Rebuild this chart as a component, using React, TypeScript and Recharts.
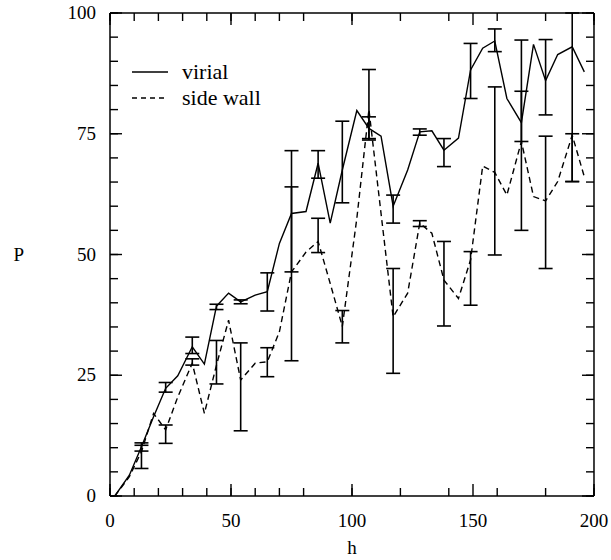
import React from 'react';
import { LineChart, Line, XAxis, YAxis, ErrorBar, Legend } from 'recharts';

const FONT = '"Liberation Serif", "DejaVu Serif", serif';

// h positions of every point on both curves
const hValues = [2, 8, 13, 18, 23, 28, 34, 39, 44, 49, 54, 60, 65, 70, 75, 81, 86, 91, 96, 102, 107, 112, 117, 123, 128, 133, 138, 144, 149, 154, 159, 164, 170, 175, 180, 185, 191, 196];
const virial = [0, 4.3, 10.2, 16.4, 22.3, 24.9, 30.9, 27.3, 39.3, 42.0, 40.2, 41.6, 42.3, 52.3, 58.5, 58.9, 68.9, 56.5, 67.5, 79.8, 76.1, 74.5, 60.0, 67.5, 75.4, 75.6, 71.6, 74.1, 88.2, 92.7, 94.2, 82.3, 77.3, 93.5, 86.0, 91.4, 93.0, 87.8];
const sideWall = [0, 4.0, 9.2, 17.1, 13.7, 20.5, 27.5, 17.1, 27.1, 36.4, 24.0, 27.5, 27.8, 34.0, 46.4, 50.5, 52.7, 44.0, 35.1, 57.5, 80.0, 58.5, 37.1, 42.0, 56.5, 54.4, 44.7, 40.9, 48.9, 68.3, 67.0, 62.3, 73.4, 62.0, 61.1, 65.1, 74.7, 66.1];

// error bars (only on every other point)
const errH = [13, 23, 34, 44, 54, 65, 75, 86, 96, 107, 117, 128, 138, 149, 159, 170, 180, 191];
const virialLow = [9.3, 21.5, 29.5, 38.6, 39.8, 38.3, 46.4, 65.8, 60.7, 73.7, 56.5, 74.7, 68.2, 82.3, 92.0, 73.4, 78.9, 65.1];
const virialHigh = [11.0, 23.5, 32.9, 39.7, 40.6, 46.2, 71.5, 71.5, 77.6, 88.3, 62.3, 76.0, 74.0, 93.7, 96.7, 94.4, 94.5, 100];
const sideLow = [5.7, 10.9, 27.1, 23.2, 13.5, 24.7, 28.0, 50.4, 31.7, 74.0, 25.4, 55.8, 35.2, 39.5, 49.9, 55.0, 47.1, 65.1];
const sideHigh = [10.5, 14.7, 28.4, 32.2, 31.7, 30.7, 64.0, 57.5, 38.4, 78.5, 47.1, 57.0, 52.7, 50.6, 84.7, 83.8, 74.5, 75.0];

const xTicks = [0, 10, 20, 30, 40, 50, 60, 70, 80, 90, 100, 110, 120, 130, 140, 150, 160, 170, 180, 190, 200];
const xMajor = [0, 50, 100, 150, 200];
const yTicks = [0, 5, 10, 15, 20, 25, 30, 35, 40, 45, 50, 55, 60, 65, 70, 75, 80, 85, 90, 95, 100];
const yMajor = [0, 25, 50, 75, 100];

const legendItems = [
  { label: 'virial', dash: undefined },
  { label: 'side wall', dash: '5 4' },
];

const data = hValues.map((h, i) => {
  const k = errH.indexOf(h);
  const row: any = { h, virial: virial[i], side: sideWall[i] };
  if (k >= 0) {
    row.virialErr = [virial[i] - virialLow[k], virialHigh[k] - virial[i]];
    row.sideErr = [sideWall[i] - sideLow[k], sideHigh[k] - sideWall[i]];
  }
  return row;
});

const tickText = { fontFamily: FONT, fontSize: 19, fill: '#000' };
const tickLine = { stroke: '#000', strokeWidth: 1.4 };
const axisLine = { stroke: '#000', strokeWidth: 1.5 };
const THIN = 0.01;

function BottomLabel({ x, y, payload }: any) {
  return <text x={x} y={Number(y) + 31} textAnchor="middle" {...tickText}>{payload.value}</text>;
}

function LeftLabel({ x, y, payload }: any) {
  return <text x={Number(x) - 14} y={Number(y) + 6} textAnchor="end" {...tickText}>{payload.value}</text>;
}

const NoLabel = () => null;

function LegendBox() {
  return (
    <div style={{ fontFamily: FONT, fontSize: 22, color: '#000' }}>
      {legendItems.map((it) => (
        <div key={it.label} style={{ display: 'flex', alignItems: 'center', height: 26 }}>
          <svg width={36} height={4}>
            <line x1={0} x2={36} y1={2} y2={2} stroke="#000" strokeWidth={1.5} strokeDasharray={it.dash} />
          </svg>
          <span style={{ marginLeft: 14 }}>{it.label}</span>
        </div>
      ))}
    </div>
  );
}

// inward tick rows drawn as mirrored axes on each side of the frame
function frameX(id: string, orientation: 'top' | 'bottom', ticks: number[], size: number, line: boolean) {
  return (
    <XAxis
      key={id} xAxisId={id} orientation={orientation} mirror dataKey="h" type="number" domain={[0, 200]}
      ticks={ticks} allowDataOverflow height={THIN} axisLine={line ? axisLine : false}
      tickLine={tickLine} tickSize={size} tickMargin={0} tick={<NoLabel />}
    />
  );
}

function frameY(id: string, orientation: 'left' | 'right', ticks: number[], size: number, line: boolean) {
  return (
    <YAxis
      key={id} yAxisId={id} orientation={orientation} mirror type="number" domain={[0, 100]}
      ticks={ticks} allowDataOverflow width={THIN} axisLine={line ? axisLine : false}
      tickLine={tickLine} tickSize={size} tickMargin={0} tick={<NoLabel />}
    />
  );
}

export default function App() {
  return (
    <div style={{ position: 'absolute', left: 0, top: 0, background: '#fff' }}>
      <LineChart width={611} height={560} data={data} margin={{ top: 13, right: 17, bottom: 0, left: 50 }}>
        <XAxis
          xAxisId="b" dataKey="h" type="number" domain={[0, 200]} ticks={xMajor} allowDataOverflow
          height={64} axisLine={axisLine} tickLine={false} tickSize={0} tickMargin={0} tick={<BottomLabel />}
          label={{ value: 'h', position: 'insideBottom', offset: 6, style: { ...tickText } }}
        />
        <YAxis
          yAxisId="l" type="number" domain={[0, 100]} ticks={yMajor} allowDataOverflow
          width={60} axisLine={axisLine} tickLine={false} tickSize={0} tickMargin={0} tick={<LeftLabel />}
          label={{ value: 'P', position: 'left', offset: 26, style: { ...tickText } }}
        />
        {frameX('bMin', 'bottom', xTicks, 8, false)}
        {frameX('bMaj', 'bottom', xMajor, 12, false)}
        {frameX('tMin', 'top', xTicks, 8, true)}
        {frameX('tMaj', 'top', xMajor, 12, false)}
        {frameY('lMin', 'left', yTicks, 8, false)}
        {frameY('lMaj', 'left', yMajor, 12, false)}
        {frameY('rMin', 'right', yTicks, 8, true)}
        {frameY('rMaj', 'right', yMajor, 12, false)}
        <Legend
          layout="vertical" align="center" verticalAlign="middle" content={<LegendBox />}
          wrapperStyle={{ left: 132, top: 59, width: 'auto', height: 'auto' }}
        />
        {/* invisible carriers so every frame axis is laid out */}
        <Line xAxisId="bMin" yAxisId="lMin" dataKey="virial" stroke="none" dot={false} isAnimationActive={false} />
        <Line xAxisId="bMaj" yAxisId="lMaj" dataKey="virial" stroke="none" dot={false} isAnimationActive={false} />
        <Line xAxisId="tMin" yAxisId="rMin" dataKey="virial" stroke="none" dot={false} isAnimationActive={false} />
        <Line xAxisId="tMaj" yAxisId="rMaj" dataKey="virial" stroke="none" dot={false} isAnimationActive={false} />
        <Line
          xAxisId="b" yAxisId="l" type="linear" dataKey="virial" name="virial"
          stroke="#000" strokeWidth={1.4} dot={false} isAnimationActive={false}
        >
          <ErrorBar dataKey="virialErr" width={7} stroke="#000" strokeWidth={1.6} direction="y" />
        </Line>
        <Line
          xAxisId="b" yAxisId="l" type="linear" dataKey="side" name="side wall"
          stroke="#000" strokeWidth={1.4} strokeDasharray="6 4" dot={false} isAnimationActive={false}
        >
          <ErrorBar dataKey="sideErr" width={7} stroke="#000" strokeWidth={1.6} direction="y" />
        </Line>
      </LineChart>
    </div>
  );
}
